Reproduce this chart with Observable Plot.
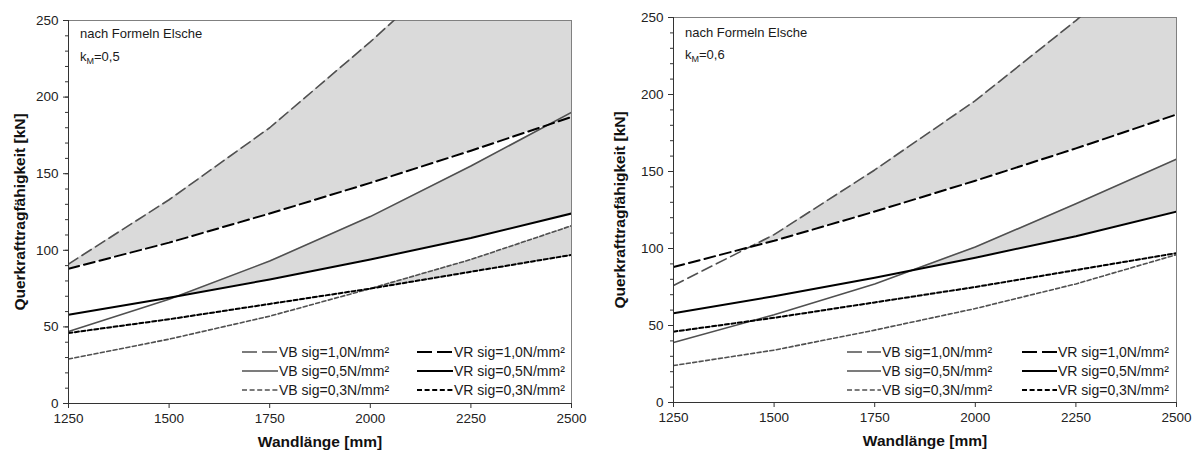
<!DOCTYPE html>
<html>
<head>
<meta charset="utf-8">
<script src="https://cdn.jsdelivr.net/npm/d3@7"></script>
<script src="https://cdn.jsdelivr.net/npm/@observablehq/plot@0.6"></script>
<style>
  html, body { margin: 0; padding: 0; background: #fff; }
  #wrap { position: relative; width: 1197px; height: 450px; overflow: hidden; font-family: "Liberation Sans", Arial, sans-serif; color: #1a1a1a; }
  .panel { position: absolute; top: 0; }
  .ov { position: absolute; white-space: nowrap; font-size: 13px; line-height: 16px; }
  .ov sub { font-size: 9px; vertical-align: -3px; line-height: 0; }
  .leg { position: absolute; white-space: nowrap; font-size: 14px; line-height: 16px; }
</style>
</head>
<body>
<div id="wrap"></div>
<script>
// ---------- data ----------
const wallLength = [1250, 1500, 1750, 2000, 2250, 2500];           // Wandlänge [mm]
const xTicks = [1250, 1500, 1750, 2000, 2250, 2500];
const yTicks = [0, 50, 100, 150, 200, 250];

// VR (same in both panels)
const vr10 = [88, 105, 124, 144, 165, 187];
const vr05 = [58, 69, 81, 94, 108, 124];
const vr03 = [46, 55, 65, 75, 86, 97];

// VB, k_M = 0,5 (left)
const vbA10 = [91, 133, 180, 236, 296, 358];
const vbA05 = [47, 68, 93, 122, 155, 190];
const vbA03 = [29, 42, 57, 75, 94, 116];

// VB, k_M = 0,6 (right)
const vbB10 = [76, 109, 151, 196, 248, 305];
const vbB05 = [39, 57, 77, 101, 129, 158];
const vbB03 = [24, 34, 47, 61, 77, 96];

const legendLabels = [
  ["VB sig=1,0N/mm²", "VR sig=1,0N/mm²"],
  ["VB sig=0,5N/mm²", "VR sig=0,5N/mm²"],
  ["VB sig=0,3N/mm²", "VR sig=0,3N/mm²"]
];

// ---------- helpers ----------
const FONT = '"Liberation Sans", Arial, sans-serif';
const VB_COLOR = "#505050", VR_COLOR = "#000000", FILL = "#dadada";
const DASH = { "10": "11,5", "05": null, "03": "4,2.5" };

function series(vals) { return wallLength.map((x, i) => ({x, y: vals[i]})); }

function band(vb, vr) {
  const pts = [];
  for (let i = 0; i < wallLength.length; i++) {
    pts.push({x: wallLength[i], lo: vr[i], hi: Math.max(vb[i], vr[i])});
    if (i < wallLength.length - 1) {
      const d0 = vb[i] - vr[i], d1 = vb[i + 1] - vr[i + 1];
      if (d0 * d1 < 0) {
        const t = d0 / (d0 - d1);
        const x = wallLength[i] + t * (wallLength[i + 1] - wallLength[i]);
        const y = vr[i] + t * (vr[i + 1] - vr[i]);
        pts.push({x, lo: y, hi: y});
      }
    }
  }
  return pts;
}

function panel(opts) {
  const {width, mL, mR, mT, mB, vb} = opts;
  const vrs = [vr10, vr05, vr03];
  const keys = ["10", "05", "03"];
  const marks = [];
  vb.forEach((v, k) => {
    marks.push(Plot.areaY(band(v, vrs[k]), {x: "x", y1: "lo", y2: "hi", fill: FILL, clip: true}));
  });
  marks.push(Plot.frame({stroke: "#808080", strokeWidth: 1}));
  vb.forEach((v, k) => {
    marks.push(Plot.line(series(v), {x: "x", y: "y", stroke: VB_COLOR, strokeWidth: 1.6,
      strokeDasharray: DASH[keys[k]], clip: true}));
  });
  vrs.forEach((v, k) => {
    marks.push(Plot.line(series(v), {x: "x", y: "y", stroke: VR_COLOR, strokeWidth: 2,
      strokeDasharray: DASH[keys[k]], clip: true}));
  });
  marks.push(
    Plot.axisY({ticks: d3.range(0, 251, 10), tickSize: 3, text: null, stroke: "#333"}),
    Plot.axisY({ticks: yTicks, tickSize: 5, tickPadding: 5, tickFormat: d => String(d), label: null,
      stroke: "#333", fill: "#222", fontSize: 13.5}),
    Plot.axisX({ticks: xTicks, tickSize: 5, tickPadding: 5, tickFormat: d => String(d), label: null,
      stroke: "#333", fill: "#222", fontSize: 13.5}),
    Plot.ruleX([1250], {stroke: "#333", strokeWidth: 1}),
    Plot.ruleY([0], {stroke: "#333", strokeWidth: 1}),
    Plot.text(["Querkrafttragfähigkeit [kN]"], {text: d => d, frameAnchor: "left", dx: -(mL - 20), rotate: -90,
      textAnchor: "middle", lineAnchor: "middle", fontWeight: "bold", fontSize: 15.5, fill: "#111"}),
    Plot.text(["Wandlänge [mm]"], {text: d => d, frameAnchor: "bottom", dy: 39,
      textAnchor: "middle", lineAnchor: "middle", fontWeight: "bold", fontSize: 15.5, fill: "#111"})
  );
  return Plot.plot({
    width, height: 450,
    marginLeft: mL, marginRight: mR, marginTop: mT, marginBottom: mB,
    x: {domain: [1250, 2500]},
    y: {domain: [0, 250]},
    style: {fontFamily: FONT, fontSize: "13.5px", background: "white", color: "#222"},
    marks
  });
}

const wrap = document.getElementById("wrap");

function addPanel(left, p) {
  const d = document.createElement("div");
  d.className = "panel";
  d.style.left = left + "px";
  d.appendChild(p);
  wrap.appendChild(d);
}

addPanel(0, panel({width: 600, mL: 68, mR: 29, mT: 20, mB: 47, vb: [vbA10, vbA05, vbA03]}));
addPanel(600, panel({width: 597, mL: 73, mR: 21, mT: 17, mB: 48, vb: [vbB10, vbB05, vbB03]}));

// annotations
function addText(html, x, cy, cls) {
  const d = document.createElement("div");
  d.className = cls || "ov";
  d.style.left = x + "px";
  d.style.top = (cy - 8) + "px";
  d.innerHTML = html;
  wrap.appendChild(d);
}
addText("nach Formeln Elsche", 80, 34);
addText("k<sub>M</sub>=0,5", 80, 57);
addText("nach Formeln Elsche", 685, 33);
addText("k<sub>M</sub>=0,6", 685, 55);

// legends
const legendStyles = [
  [{c: VB_COLOR, w: 1.6, d: "15,5"}, {c: VR_COLOR, w: 2, d: "15,5"}],
  [{c: VB_COLOR, w: 1.6, d: null}, {c: VR_COLOR, w: 2, d: null}],
  [{c: VB_COLOR, w: 1.6, d: "5,2.6"}, {c: VR_COLOR, w: 2, d: "5,2.6"}]
];
function addLegend(cols, rowsY) {
  legendLabels.forEach((row, r) => {
    row.forEach((label, c) => {
      const {x0, x1} = cols[c];
      const st = legendStyles[r][c];
      const svg = d3.create("svg").attr("width", x1 - x0).attr("height", 6)
        .style("position", "absolute").style("left", x0 + "px").style("top", (rowsY[r] - 3) + "px");
      svg.append("line").attr("x1", 0).attr("x2", x1 - x0).attr("y1", 3).attr("y2", 3)
        .attr("stroke", st.c).attr("stroke-width", st.w).attr("stroke-dasharray", st.d);
      wrap.appendChild(svg.node());
      addText(label, x1 + 1, rowsY[r], "leg");
    });
  });
}
addLegend([{x0: 242, x1: 278}, {x0: 417, x1: 453}], [352, 371, 390]);
addLegend([{x0: 847, x1: 881}, {x0: 1022, x1: 1057}], [352, 371, 390]);
</script>
</body>
</html>
